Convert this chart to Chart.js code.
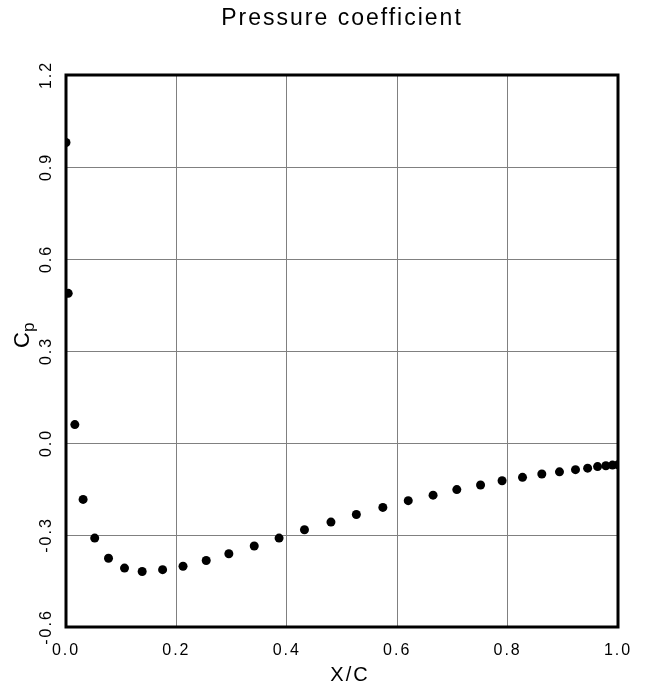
<!DOCTYPE html>
<html>
<head>
<meta charset="utf-8">
<script src="https://cdn.jsdelivr.net/npm/chart.js@4/dist/chart.umd.min.js"></script>
<style>
  html, body { margin: 0; padding: 0; background: #fff; }
  canvas { display: block; }
</style>
</head>
<body>
<canvas id="cp" width="654" height="689"></canvas>
<script>
// abscisse X/C des prises de pression
const xc = [0.000, 0.004, 0.016, 0.031, 0.052, 0.077, 0.106, 0.138, 0.175, 0.212,
            0.254, 0.295, 0.341, 0.386, 0.432, 0.480, 0.526, 0.574, 0.620, 0.665,
            0.708, 0.751, 0.790, 0.827, 0.862, 0.894, 0.923, 0.945, 0.963, 0.978,
            0.990, 1.000];
// coefficient de pression Cp
const cp = [0.980, 0.488, 0.060, -0.184, -0.310, -0.376, -0.408, -0.419, -0.413, -0.402,
            -0.383, -0.361, -0.336, -0.310, -0.283, -0.258, -0.233, -0.210, -0.188, -0.170,
            -0.152, -0.137, -0.123, -0.112, -0.101, -0.094, -0.087, -0.082, -0.077, -0.074,
            -0.072, -0.071];
// graduations des axes
const xTicks = [0.0, 0.2, 0.4, 0.6, 0.8, 1.0];
const yTicks = [-0.6, -0.3, 0.0, 0.3, 0.6, 0.9, 1.2];

const points = xc.map((x, i) => ({ x: x, y: cp[i] }));

const FONT = '"Liberation Sans", Arial, sans-serif';

// espacement des lettres, comme sur le trace original
const espacement = {
  id: 'espacement',
  beforeLayout(chart) { chart.ctx.letterSpacing = '2px'; },
  beforeDraw(chart) { chart.ctx.letterSpacing = '2px'; }
};

// cadre noir epais autour de la zone de trace
const cadre = {
  id: 'cadre',
  beforeDatasetsDraw(chart) {
    const { ctx, chartArea: a } = chart;
    ctx.save();
    ctx.strokeStyle = '#000';
    ctx.lineWidth = 3;
    ctx.strokeRect(a.left, a.top, a.right - a.left, a.bottom - a.top);
    ctx.restore();
  }
};

// titres des axes : X/C et C indice p
const titresAxes = {
  id: 'titresAxes',
  afterDraw(chart) {
    const { ctx, chartArea: a } = chart;
    ctx.save();
    ctx.fillStyle = '#000';
    ctx.letterSpacing = '2px';
    ctx.font = '20px ' + FONT;
    ctx.textAlign = 'center';
    ctx.textBaseline = 'alphabetic';
    ctx.fillText('X/C', (a.left + a.right) / 2 + 8, a.bottom + 54);

    ctx.translate(29, (a.top + a.bottom) / 2 - 3);
    ctx.rotate(-Math.PI / 2);
    ctx.textAlign = 'left';
    ctx.font = '22px ' + FONT;
    ctx.fillText('C', 0, 0);
    const w = ctx.measureText('C').width;
    ctx.font = '17px ' + FONT;
    ctx.fillText('p', w - 2, 5);
    ctx.restore();
  }
};

new Chart(document.getElementById('cp'), {
  type: 'scatter',
  data: {
    datasets: [{
      label: 'Cp',
      data: points,
      showLine: false,
      pointRadius: 4.5,
      pointHoverRadius: 4.5,
      pointBorderWidth: 0,
      pointBackgroundColor: '#000',
      borderColor: '#000'
    }]
  },
  options: {
    responsive: false,
    animation: false,
    layout: { padding: { left: 0, right: 36, top: 0, bottom: 0 } },
    plugins: {
      legend: { display: false },
      tooltip: { enabled: false },
      title: {
        display: true,
        text: 'Pressure coefficient',
        color: '#000',
        fullSize: false,
        font: { family: FONT, size: 23, weight: 'normal', lineHeight: 1.2 },
        padding: { top: 5, bottom: 42.4 }
      }
    },
    scales: {
      x: {
        type: 'linear',
        min: 0,
        max: 1,
        afterBuildTicks: s => { s.ticks = xTicks.map(v => ({ value: v })); },
        afterFit: s => { s.height = 62; },
        grid: { color: '#808080', lineWidth: 1, drawTicks: false },
        border: { display: false },
        ticks: {
          color: '#000',
          padding: 14,
          maxRotation: 0,
          font: { family: FONT, size: 16 },
          callback: v => v.toFixed(1)
        }
      },
      y: {
        type: 'linear',
        min: -0.6,
        max: 1.2,
        afterBuildTicks: s => { s.ticks = yTicks.map(v => ({ value: v })); },
        afterFit: s => { s.width = 66; },
        grid: { color: '#808080', lineWidth: 1, drawTicks: false },
        border: { display: false },
        ticks: {
          color: '#000',
          padding: 2,
          minRotation: 90,
          maxRotation: 90,
          crossAlign: 'center',
          font: { family: FONT, size: 16 },
          callback: v => v.toFixed(1)
        }
      }
    }
  },
  plugins: [espacement, cadre, titresAxes]
});
</script>
</body>
</html>
